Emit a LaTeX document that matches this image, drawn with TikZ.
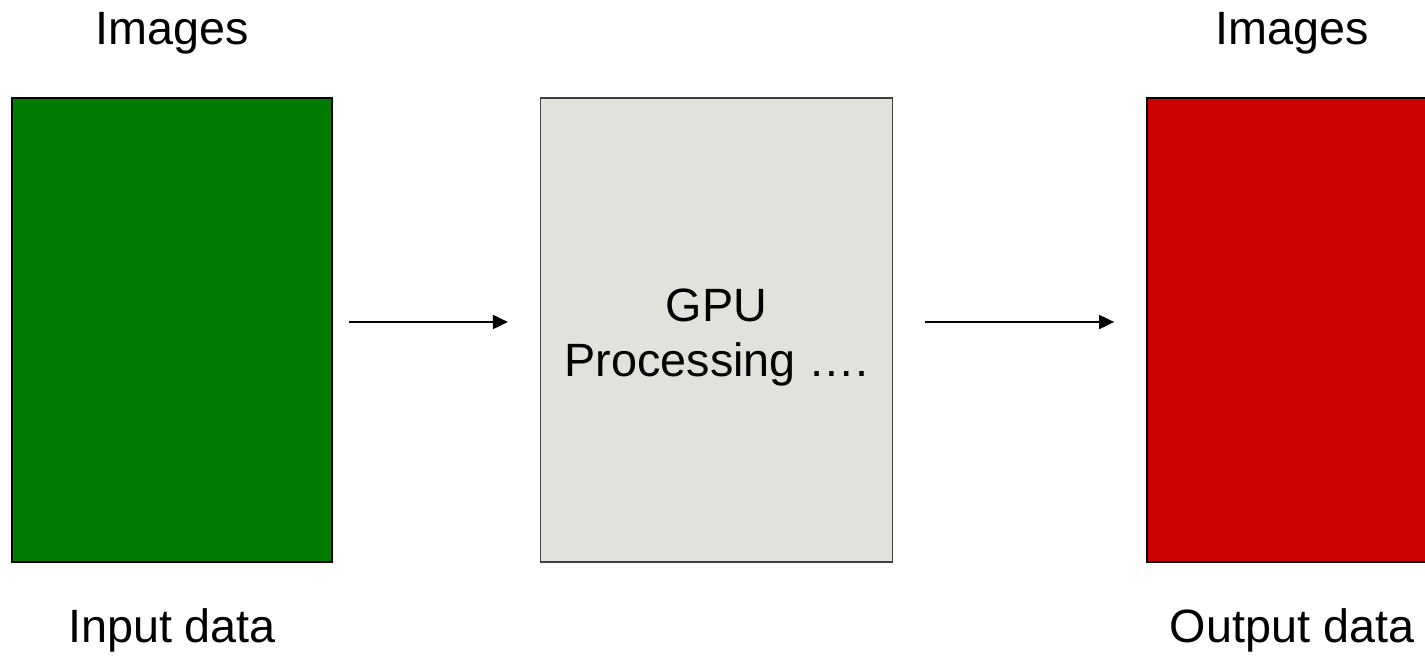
\documentclass[tikz,border=0pt]{standalone}
\usepackage{fontspec}
\setmainfont{Liberation Sans}
\usepackage{xcolor}
\usetikzlibrary{arrows.meta,positioning}
\definecolor{imgreen}{RGB}{0,123,0}
\definecolor{imred}{RGB}{204,0,0}
\definecolor{gpugray}{RGB}{224,227,219}

\begin{document}
\begin{tikzpicture}[
  x=0.02cm, y=-0.02cm,
  font=\fontsize{26.6}{31.2}\selectfont,
  panel/.style={draw=black, line width=1.1pt, minimum width=6.4cm,
                minimum height=9.28cm, inner sep=0pt},
  gpubox/.style={panel, draw=black!75, line width=0.75pt, fill=gpugray,
                 minimum width=7.04cm, align=center},
  lbl/.style={anchor=base, inner sep=0pt},
  arr/.style={-{Triangle[length=8.5pt,width=8pt]}, line width=0.85pt}
]
\useasboundingbox (0,0) rectangle (1425,661);

\node[panel, fill=imgreen] (input) at (172,330) {};
\node[gpubox, right=4.14cm of input] (gpu)
  {\rule{0pt}{27.5pt}GPU\\Processing ….};
\node[panel, fill=imred, right=5.06cm of gpu] (output) {};

% labels above and below the image panels
\node[lbl] (inimg) at (172,45) {Images};
\node[lbl] (outimg) at (1292,45) {Images};
\node[lbl] (indata) at (172,642) {Input data};
\node[lbl] (outdata) at (1292,642) {Output data};

\draw[arr, shorten <=0.32cm, shorten >=0.64cm]
  ([yshift=0.16cm]input.east) -- ([yshift=0.16cm]gpu.west);
\draw[arr, shorten <=0.64cm, shorten >=0.64cm]
  ([yshift=0.16cm]gpu.east) -- ([yshift=0.16cm]output.west);

\end{tikzpicture}
\end{document}
